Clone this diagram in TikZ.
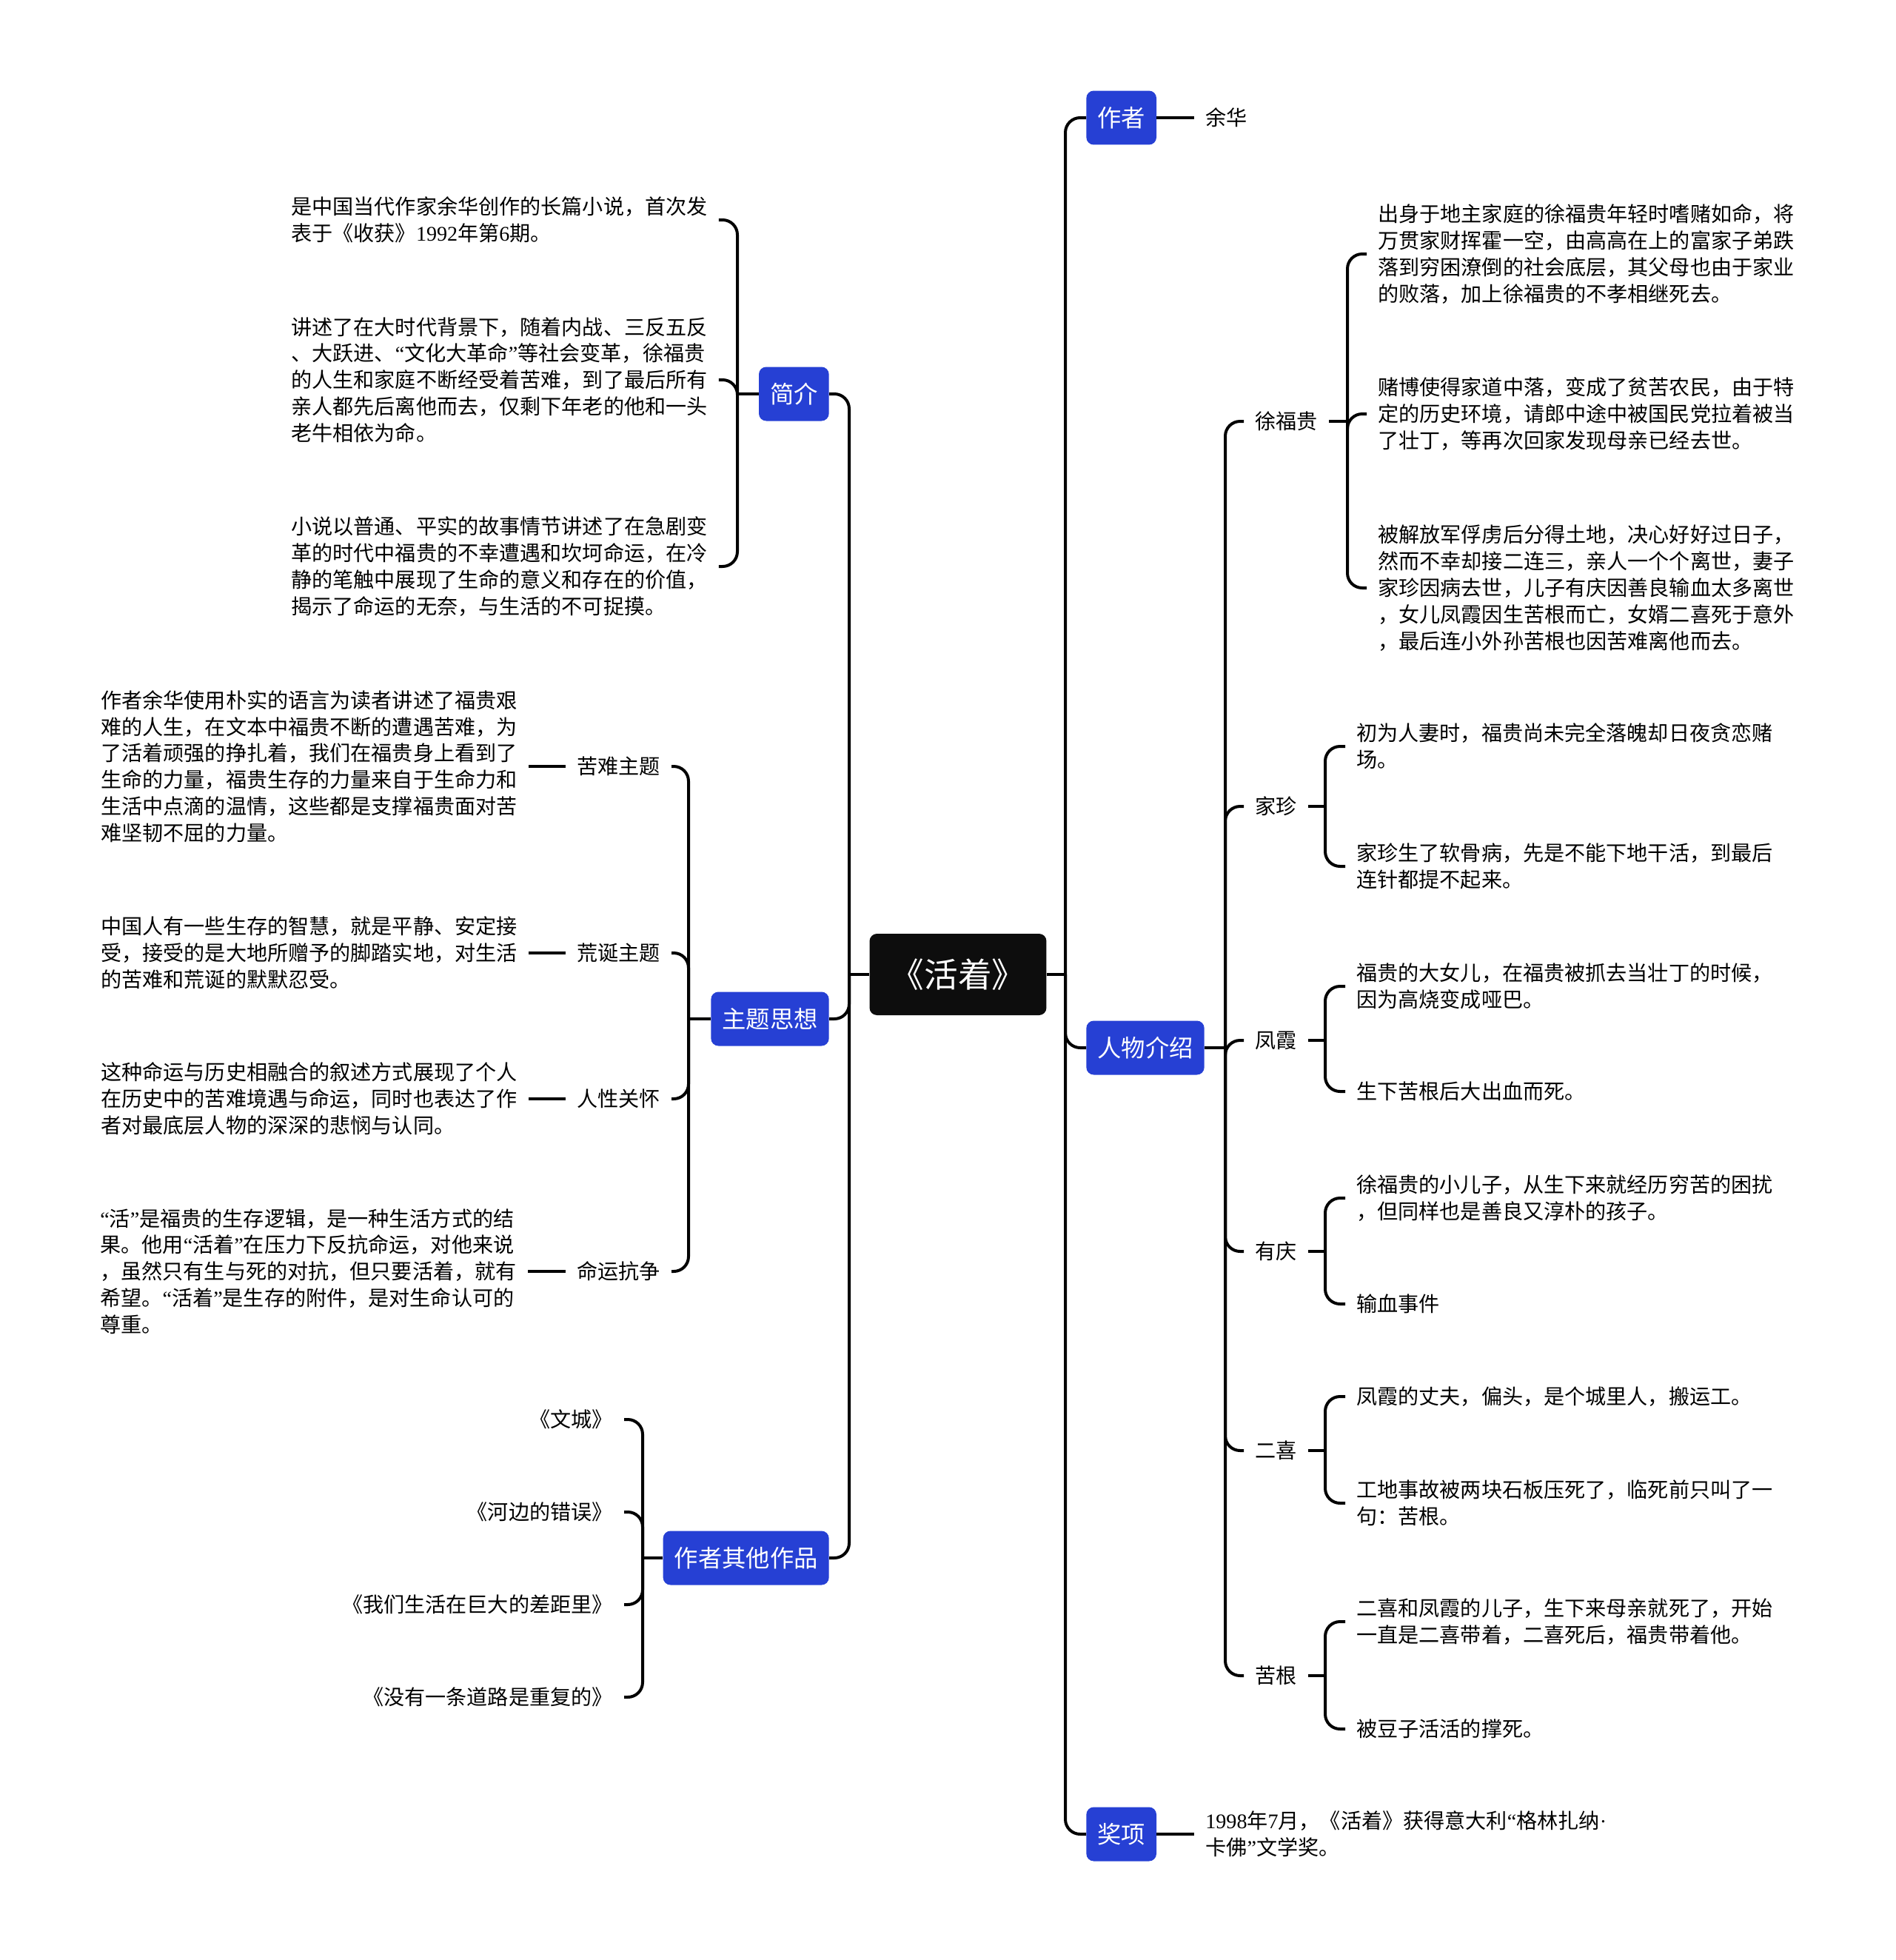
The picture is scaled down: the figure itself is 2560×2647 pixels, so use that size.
\documentclass[tikz,border=0pt]{standalone}
\usepackage{fontspec}
\setmainfont{Noto Sans CJK SC}
\newfontfamily\numfont{Liberation Serif}
\newcommand\oq{{\numfont “}}
\newcommand\cq{{\numfont ”}}
\usepackage{tikz}
\usetikzlibrary{positioning,calc}
\definecolor{topicblue}{HTML}{2640D4}
\definecolor{rootblack}{HTML}{0D0D0D}
\tikzset{
  root/.style  ={rectangle,rounded corners=0.2cm,fill=rootblack,text=white,minimum height=2.2cm,minimum width=4.78cm,inner xsep=0.2cm,font=\fontsize{26}{30}\selectfont},
  topic/.style ={rectangle,rounded corners=0.2cm,fill=topicblue,text=white,minimum height=1.46cm,inner xsep=0.3cm,font=\fontsize{18.4}{22}\selectfont},
  leaf/.style  ={align=left,inner xsep=0.3cm,inner ysep=0.1cm,font=\fontsize{16}{20.4}\selectfont},
  title/.style ={align=right,inner xsep=0.3cm,inner ysep=0.1cm,font=\fontsize{16}{20.4}\selectfont},
  link/.style  ={line width=0.08cm,rounded corners=0.4cm},
}

\begin{document}
\begin{tikzpicture}[x=0.02cm,y=-0.02cm]
  \useasboundingbox (0,0) rectangle (2560,2647);
  \node[root] (huozhe) at (1294,1316) {《活着》};
  \coordinate (jl) at (1147,1316);
  \coordinate (jr) at (1439,1316);
  \draw[link] (huozhe.west) -- (jl);
  \draw[link] (huozhe.east) -- (jr);

  % right topics
  \node[topic,anchor=west] (zuozhe) at (1467,159) {作者};
  \node[topic,anchor=west] (renwu) at (1467,1415) {人物介绍};
  \node[topic,anchor=west] (jiangxiang) at (1467,2477) {奖项};
  \foreach \t in {zuozhe,renwu,jiangxiang} \draw[link] (jr) |- (\t.west);
  \node[leaf,anchor=west] (yuhua) at (1613,159) {余华};
  \draw[link] (zuozhe.east) -- (yuhua.west);
  \node[leaf,anchor=west] (jiang1) at (1613,2477) {{\numfont 1998}年{\numfont 7}月，《活着》获得意大利\oq 格林扎纳{\numfont ·}\\卡佛\cq 文学奖。};
  \draw[link] (jiangxiang.east) -- (jiang1.west);

  % left topics
  \node[topic,anchor=east] (jianjie) at (1120,532) {简介};
  \node[topic,anchor=east] (zhuti) at (1120,1376) {主题思想};
  \node[topic,anchor=east] (qita) at (1120,2104) {作者其他作品};
  \foreach \t in {jianjie,zhuti,qita} \draw[link] (jl) |- (\t.east);

  % jianjie
  \coordinate (jjj) at (996,532);
  \draw[link] (jianjie.west) -- (jjj);
  \node[leaf,anchor=west] (jj1) at (378,297) {是中国当代作家余华创作的长篇小说，首次发\\表于《收获》{\numfont 1992}年第{\numfont 6}期。};
  \node[leaf,anchor=west] (jj2) at (378,513) {讲述了在大时代背景下，随着内战、三反五反\\、大跃进、\oq 文化大革命\cq 等社会变革，徐福贵\\的人生和家庭不断经受着苦难，到了最后所有\\亲人都先后离他而去，仅剩下年老的他和一头\\老牛相依为命。};
  \node[leaf,anchor=west] (jj3) at (378,765) {小说以普通、平实的故事情节讲述了在急剧变\\革的时代中福贵的不幸遭遇和坎坷命运，在冷\\静的笔触中展现了生命的意义和存在的价值，\\揭示了命运的无奈，与生活的不可捉摸。};
  \foreach \c in {jj1,jj2,jj3} \draw[link] (jjj) |- (\c.east);

  % zhuti
  \coordinate (jzt) at (930,1376);
  \draw[link] (zhuti.west) -- (jzt);
  \node[leaf,anchor=east] (kunan) at (907,1035) {苦难主题};
  \node[leaf,anchor=east] (huangdan) at (907,1287) {荒诞主题};
  \node[leaf,anchor=east] (renxing) at (907,1484) {人性关怀};
  \node[leaf,anchor=east] (mingyun) at (907,1717) {命运抗争};
  \foreach \c in {kunan,huangdan,renxing,mingyun} \draw[link] (jzt) |- (\c.east);
  \node[leaf,anchor=east] (kunan-t) at (714,1035) {作者余华使用朴实的语言为读者讲述了福贵艰\\难的人生，在文本中福贵不断的遭遇苦难，为\\了活着顽强的挣扎着，我们在福贵身上看到了\\生命的力量，福贵生存的力量来自于生命力和\\生活中点滴的温情，这些都是支撑福贵面对苦\\难坚韧不屈的力量。};
  \node[leaf,anchor=east] (huangdan-t) at (714,1287) {中国人有一些生存的智慧，就是平静、安定接\\受，接受的是大地所赠予的脚踏实地，对生活\\的苦难和荒诞的默默忍受。};
  \node[leaf,anchor=east] (renxing-t) at (714,1484) {这种命运与历史相融合的叙述方式展现了个人\\在历史中的苦难境遇与命运，同时也表达了作\\者对最底层人物的深深的悲悯与认同。};
  \node[leaf,anchor=west] (mingyun-t) at (120,1717) {\oq 活\cq 是福贵的生存逻辑，是一种生活方式的结\\果。他用\oq 活着\cq 在压力下反抗命运，对他来说\\，虽然只有生与死的对抗，但只要活着，就有\\希望。\oq 活着\cq 是生存的附件，是对生命认可的\\尊重。};
  \foreach \c in {kunan,huangdan,renxing,mingyun} \draw[link] (\c.west) -- (\c-t.east);

  % other works
  \coordinate (jqt) at (868,2104);
  \draw[link] (qita.west) -- (jqt);
  \foreach \y/\name/\book in {1917/wencheng/《文城》,2042/hebian/《河边的错误》,2167/chaju/《我们生活在巨大的差距里》,2292/daolu/《没有一条道路是重复的》}{
    \node[title,anchor=east] (\name) at (843,\y) {\book};
    \draw[link] (jqt) |- (\name.east);
  }

  % characters
  \coordinate (jrw) at (1655,1415);
  \draw[link] (renwu.east) -- (jrw);
  \foreach \y/\name/\person in {569/xufugui/徐福贵,1089/jiazhen/家珍,1405/fengxia/凤霞,1690/youqing/有庆,1959/erxi/二喜,2263/kugen/苦根}{
    \node[leaf,anchor=west] (\name) at (1680,\y) {\person};
    \draw[link] (jrw) |- (\name.west);
  }
  \coordinate (jxfg) at (1820,569);
  \draw[link] (xufugui.east) -- (jxfg);
  \node[leaf,anchor=west] (xfg1) at (1846,343) {出身于地主家庭的徐福贵年轻时嗜赌如命，将\\万贯家财挥霍一空，由高高在上的富家子弟跌\\落到穷困潦倒的社会底层，其父母也由于家业\\的败落，加上徐福贵的不孝相继死去。};
  \node[leaf,anchor=west] (xfg2) at (1846,559) {赌博使得家道中落，变成了贫苦农民，由于特\\定的历史环境，请郎中途中被国民党拉着被当\\了壮丁，等再次回家发现母亲已经去世。};
  \node[leaf,anchor=west] (xfg3) at (1846,794) {被解放军俘虏后分得土地，决心好好过日子，\\然而不幸却接二连三，亲人一个个离世，妻子\\家珍因病去世，儿子有庆因善良输血太多离世\\，女儿凤霞因生苦根而亡，女婿二喜死于意外\\，最后连小外孙苦根也因苦难离他而去。};
  \foreach \c in {xfg1,xfg2,xfg3} \draw[link] (jxfg) |- (\c.west);

  \coordinate (jjz) at (1790,1089);
  \draw[link] (jiazhen.east) -- (jjz);
  \node[leaf,anchor=west] (jz1) at (1817,1008) {初为人妻时，福贵尚未完全落魄却日夜贪恋赌\\场。};
  \node[leaf,anchor=west] (jz2) at (1817,1170) {家珍生了软骨病，先是不能下地干活，到最后\\连针都提不起来。};
  \foreach \c in {jz1,jz2} \draw[link] (jjz) |- (\c.west);

  \coordinate (jfx) at (1790,1405);
  \draw[link] (fengxia.east) -- (jfx);
  \node[leaf,anchor=west] (fx1) at (1817,1332) {福贵的大女儿，在福贵被抓去当壮丁的时候，\\因为高烧变成哑巴。};
  \node[leaf,anchor=west] (fx2) at (1817,1474) {生下苦根后大出血而死。};
  \foreach \c in {fx1,fx2} \draw[link] (jfx) |- (\c.west);

  \coordinate (jyq) at (1790,1690);
  \draw[link] (youqing.east) -- (jyq);
  \node[leaf,anchor=west] (yq1) at (1817,1618) {徐福贵的小儿子，从生下来就经历穷苦的困扰\\，但同样也是善良又淳朴的孩子。};
  \node[leaf,anchor=west] (yq2) at (1817,1761) {输血事件};
  \foreach \c in {yq1,yq2} \draw[link] (jyq) |- (\c.west);

  \coordinate (jex) at (1790,1959);
  \draw[link] (erxi.east) -- (jex);
  \node[leaf,anchor=west] (ex1) at (1817,1886) {凤霞的丈夫，偏头，是个城里人，搬运工。};
  \node[leaf,anchor=west] (ex2) at (1817,2030) {工地事故被两块石板压死了，临死前只叫了一\\句：苦根。};
  \foreach \c in {ex1,ex2} \draw[link] (jex) |- (\c.west);

  \coordinate (jkg) at (1790,2263);
  \draw[link] (kugen.east) -- (jkg);
  \node[leaf,anchor=west] (kg1) at (1817,2190) {二喜和凤霞的儿子，生下来母亲就死了，开始\\一直是二喜带着，二喜死后，福贵带着他。};
  \node[leaf,anchor=west] (kg2) at (1817,2335) {被豆子活活的撑死。};
  \foreach \c in {kg1,kg2} \draw[link] (jkg) |- (\c.west);
\end{tikzpicture}
\end{document}
